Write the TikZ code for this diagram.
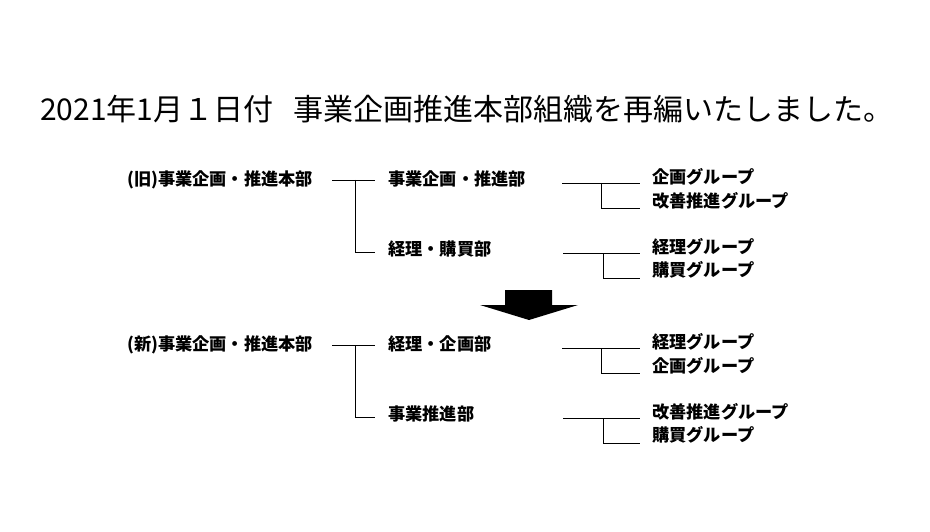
\documentclass[tikz,border=0pt]{standalone}
\usepackage{fontspec}
\setmainfont{Noto Sans CJK JP}
\begin{document}
\begin{tikzpicture}[x=1pt,y=-1pt,
    every node/.style={anchor=west,inner sep=0pt,text height=1.1em,text depth=0em},
    org/.style={font=\fontsize{17.2}{17}\selectfont\bfseries},
    ln/.style={line width=0.8pt},
  ]
\useasboundingbox (0,0) rectangle (930,532);
\node[font=\fontsize{30}{30}\selectfont] (title) at (40,115) {2021年1月１日付\hspace{20pt}事業企画推進本部組織を再編いたしました。};

\node[org] (old) at (127,180) {(旧)事業企画・推進本部};
\node[org] (old1) at (388,180) {事業企画・推進部};
\node[org] (old2) at (388,250) {経理・購買部};
\node[org] (old11) at (652,178) {企画グループ};
\node[org] (old12) at (652,202) {改善推進グループ};
\node[org] (old21) at (652,248) {経理グループ};
\node[org] (old22) at (652,271) {購買グループ};
\coordinate (oj) at (355,180);
\coordinate (oa) at (562,183);
\coordinate (ob) at (601,183);
\coordinate (oc) at (563,253);
\coordinate (od) at (603,253);
\draw[ln] ([xshift=19pt]old.east) -- ([xshift=-13pt]old1.west);
\draw[ln] (oj) |- ([xshift=-13pt,yshift=-2pt]old2.west);
\draw[ln] (oa) -- ([xshift=-12pt,yshift=-5pt]old11.west);
\draw[ln] (ob) |- ([xshift=-12pt,yshift=-6pt]old12.west);
\draw[ln] (oc) -- ([xshift=-12pt,yshift=-5pt]old21.west);
\draw[ln] (od) |- ([xshift=-12pt,yshift=-7pt]old22.west);

\fill (505,290) -- (552,290) -- (552,305) -- (578,305) -- (529,320)
  -- (480,305) -- (505,305) -- cycle;

\node[org] (new) at (127,345) {(新)事業企画・推進本部};
\node[org] (new1) at (388,345) {経理・企画部};
\node[org] (new2) at (388,415) {事業推進部};
\node[org] (new11) at (652,343) {経理グループ};
\node[org] (new12) at (652,367) {企画グループ};
\node[org] (new21) at (652,413) {改善推進グループ};
\node[org] (new22) at (652,436) {購買グループ};
\coordinate (nj) at (355,345);
\coordinate (na) at (562,348);
\coordinate (nb) at (601,348);
\coordinate (nc) at (563,418);
\coordinate (nd) at (603,418);
\draw[ln] ([xshift=19pt]new.east) -- ([xshift=-13pt]new1.west);
\draw[ln] (nj) |- ([xshift=-13pt,yshift=-2pt]new2.west);
\draw[ln] (na) -- ([xshift=-12pt,yshift=-5pt]new11.west);
\draw[ln] (nb) |- ([xshift=-12pt,yshift=-6pt]new12.west);
\draw[ln] (nc) -- ([xshift=-12pt,yshift=-5pt]new21.west);
\draw[ln] (nd) |- ([xshift=-12pt,yshift=-7pt]new22.west);
\end{tikzpicture}
\end{document}
